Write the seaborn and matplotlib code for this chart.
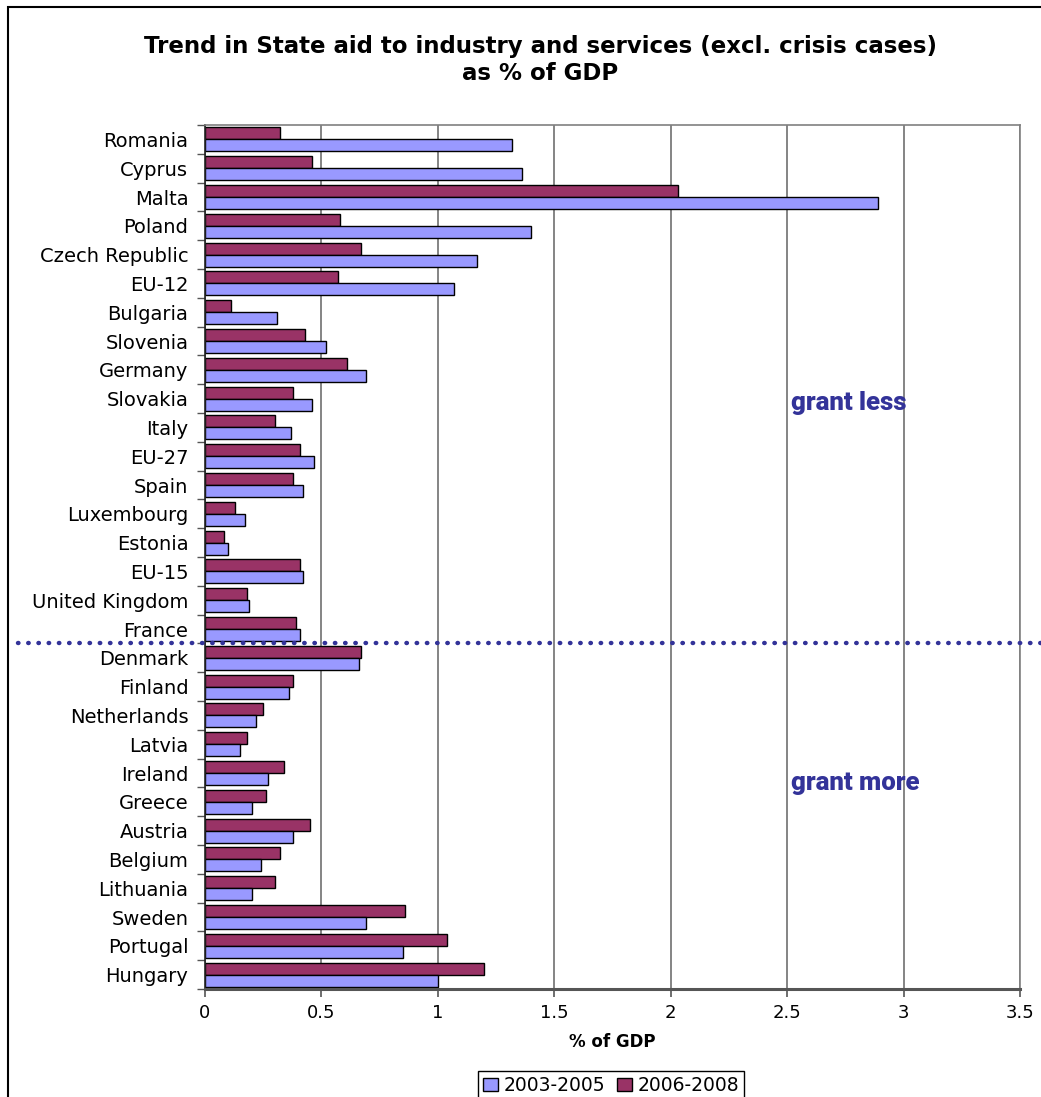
import numpy as np
import pandas as pd
import matplotlib
matplotlib.use("Agg")
import matplotlib.pyplot as plt
import seaborn as sns
from matplotlib.patches import Patch, Rectangle

# Data (% of GDP)
countries = [
    "Romania", "Cyprus", "Malta", "Poland", "Czech Republic", "EU-12",
    "Bulgaria", "Slovenia", "Germany", "Slovakia", "Italy", "EU-27",
    "Spain", "Luxembourg", "Estonia", "EU-15", "United Kingdom", "France",
    "Denmark", "Finland", "Netherlands", "Latvia", "Ireland", "Greece",
    "Austria", "Belgium", "Lithuania", "Sweden", "Portugal", "Hungary",
]
aid_2003_2005 = [
    1.32, 1.36, 2.89, 1.40, 1.17, 1.07,
    0.31, 0.52, 0.69, 0.46, 0.37, 0.47,
    0.42, 0.17, 0.10, 0.42, 0.19, 0.41,
    0.66, 0.36, 0.22, 0.15, 0.27, 0.20,
    0.38, 0.24, 0.20, 0.69, 0.85, 1.00,
]
aid_2006_2008 = [
    0.32, 0.46, 2.03, 0.58, 0.67, 0.57,
    0.11, 0.43, 0.61, 0.38, 0.30, 0.41,
    0.38, 0.13, 0.08, 0.41, 0.18, 0.39,
    0.67, 0.38, 0.25, 0.18, 0.34, 0.26,
    0.45, 0.32, 0.30, 0.86, 1.04, 1.20,
]
periods = ["2003-2005", "2006-2008"]
colors = {"2003-2005": "#9999FF", "2006-2008": "#993366"}

df = pd.DataFrame({
    "country": countries * 2,
    "value": aid_2003_2005 + aid_2006_2008,
    "period": [periods[0]] * len(countries) + [periods[1]] * len(countries),
})

sns.set_theme(style="white")
plt.rcParams["font.family"] = ["DejaVu Sans"]
plt.rcParams["text.color"] = "black"
plt.rcParams["xtick.color"] = "black"
plt.rcParams["ytick.color"] = "black"
plt.rcParams["axes.labelcolor"] = "black"

fig = plt.figure(figsize=(10.41, 10.97), dpi=100)
ax = fig.add_axes([205 / 1041, 1 - 989 / 1097, 815 / 1041, (989 - 125) / 1097])

sns.barplot(
    data=df, y="country", x="value", hue="period",
    hue_order=["2006-2008", "2003-2005"], order=countries,
    palette=colors, orient="h", width=0.84,
    edgecolor="black", linewidth=1, saturation=1,
    ax=ax, legend=False,
)

ax.set_xlim(0, 3.5)
ax.set_xticks(np.arange(0, 3.51, 0.5))
ax.set_xticklabels(["0", "0.5", "1", "1.5", "2", "2.5", "3", "3.5"], fontsize=13)
ax.xaxis.grid(True, color="#707070", linewidth=1.2)
ax.set_axisbelow(True)
ax.set_ylabel("")
ax.set_xlabel("% of GDP", fontsize=12, fontweight="bold", labelpad=8)
ax.tick_params(axis="x", bottom=True, length=6, width=1.2, color="#555555", pad=5)
ax.tick_params(axis="y", which="major", left=False, length=0, labelsize=14, pad=12)
# tick marks between categories, Excel style
ax.set_yticks(np.arange(-0.5, len(countries), 1.0), minor=True)
ax.tick_params(axis="y", which="minor", left=True, length=6, width=1, color="#555555")
ax.set_ylim(len(countries) - 0.5, -0.5)

for side in ["top", "right"]:
    ax.spines[side].set_color("#808080")
    ax.spines[side].set_linewidth(1.2)
ax.spines["left"].set_color("#222222")
ax.spines["left"].set_linewidth(1.2)
ax.spines["bottom"].set_color("#555555")
ax.spines["bottom"].set_linewidth(2.2)

# dotted divider between France and Denmark
ax.plot([-0.23, 1.03], [17.5, 17.5], transform=ax.get_yaxis_transform(),
        color="#333399", linestyle=(0, (0.1, 2.2)), linewidth=3.2,
        dash_capstyle="round", clip_on=False, zorder=5)

note_font = dict(color="#333399", fontsize=18.5, fontweight="black",
                 family=["Roboto", "DejaVu Sans"], ha="left", va="center")
ax.text(2.515, 9.15, "grant less", **note_font)
ax.text(2.515, 22.35, "grant more", **note_font)

fig.text(540 / 1041, 1 - 60 / 1097,
         "Trend in State aid to industry and services (excl. crisis cases)\nas % of GDP",
         ha="center", va="center", fontsize=16.5, fontweight="bold", linespacing=1.2)

handles = [Patch(facecolor=colors[p], edgecolor="black", linewidth=1) for p in periods]
fig.legend(handles, periods, loc="upper center",
           bbox_to_anchor=(611 / 1041, 1 - 1071 / 1097), ncol=2, fontsize=13.5,
           frameon=True, fancybox=False, edgecolor="black", framealpha=1,
           handlelength=0.8, handleheight=0.7, handletextpad=0.3,
           columnspacing=0.6, borderpad=0.25, borderaxespad=0)

# outer chart border
fig.add_artist(Rectangle((8 / 1041, -0.1), 1.2, 1 - 7 / 1097 + 0.1,
                         transform=fig.transFigure, fill=False,
                         edgecolor="black", linewidth=1.5))

fig.savefig("out.png", dpi=100)
